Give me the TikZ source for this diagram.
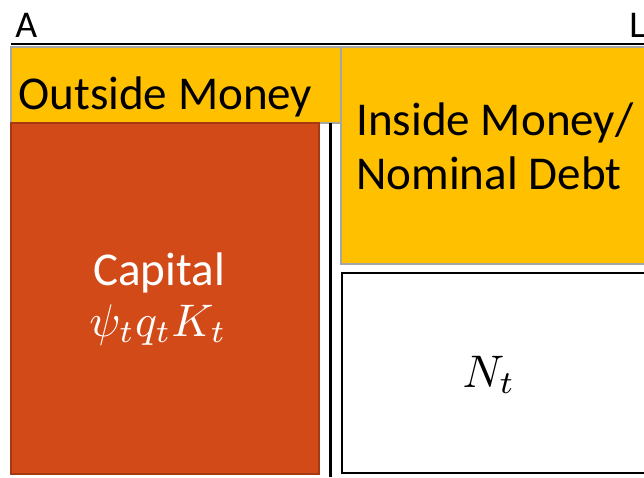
\documentclass[tikz,border=0pt]{standalone}
\usepackage{fontspec}
\setmainfont{Carlito}
\usepackage{xcolor}
\usetikzlibrary{calc}
\definecolor{gold}{HTML}{FFC000}
\definecolor{rust}{HTML}{D24A17}
\definecolor{rustedge}{HTML}{A53A12}
\definecolor{boxedge}{HTML}{A6A6A6}
\tikzset{
  bigtext/.style={font=\fontsize{26.8}{31}\selectfont, inner sep=0},
  sidetext/.style={font=\fontsize{21.5}{25}\selectfont, inner sep=0, anchor=base west},
  mathtext/.style={font=\fontsize{10}{12}\selectfont, scale=2.6, inner sep=0, anchor=base}
}

\begin{document}
\begin{tikzpicture}[x=0.02cm,y=-0.02cm]
\clip (0,0) rectangle (644,477);
\fill[white] (0,0) rectangle (644,477);
% balance sheet rule
\draw[black, line width=1.4pt] (11,44)--(644,44);
\node[sidetext] (assets) at (15,37) {A};
\node[sidetext] (liabs) at (629,37) {L};
% money boxes
\filldraw[fill=gold, draw=boxedge, line width=0.6pt] (11,47) rectangle (341,123);
\filldraw[fill=gold, draw=boxedge, line width=0.6pt] (341,47) rectangle (650,264);
\node[bigtext, anchor=base west] (outside) at (18,109) {Outside Money};
\node[bigtext, anchor=base west] (inside) at (356,135) {Inside Money/};
\node[bigtext, anchor=base west] (debt) at (356,189) {Nominal Debt};
% capital
\filldraw[fill=rust, draw=rustedge, line width=0.8pt] (11,123) rectangle (319,474);
\node[bigtext, anchor=base, white] (capital) at (159,285) {Capital};
\node[mathtext, white] (capval) at (158,336) {$\psi_t q_t K_t$};
% net worth
\draw[black, line width=1.1pt, fill=white] (342,273) rectangle (650,473);
\node[mathtext] (networth) at (489,387) {$N_t$};
\draw[black, line width=1.7pt] (330.5,123)--(330.5,477);
\end{tikzpicture}
\end{document}
